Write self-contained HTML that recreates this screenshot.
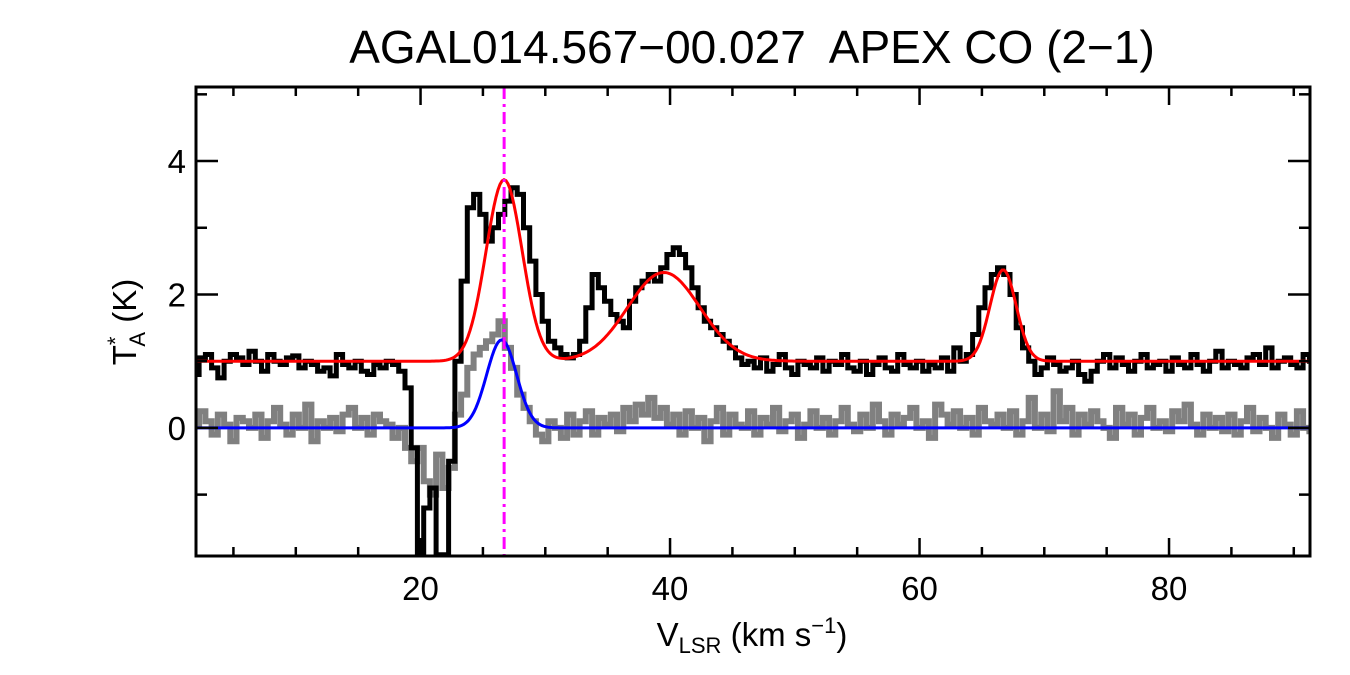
<!DOCTYPE html>
<html><head><meta charset="utf-8"><style>
html,body{margin:0;padding:0;background:#fff;}
svg{display:block;font-family:"Liberation Sans",sans-serif;}
</style></head><body>
<svg id="chart" width="1350" height="675" viewBox="0 0 1350 675">
<text x="752" y="63" font-size="46" text-anchor="middle" style="white-space:pre">AGAL014.567−00.027  APEX CO (2−1)</text>
<g id="plot"></g>
<text x="752" y="646" font-size="33" text-anchor="middle">V<tspan font-size="22" dy="7">LSR</tspan><tspan dy="-7"> (km s</tspan><tspan font-size="22" dy="-13">−1</tspan><tspan dy="13">)</tspan></text>
<text transform="translate(136,322) rotate(-90)" font-size="33" text-anchor="middle">T<tspan font-size="22" dy="-13">*</tspan><tspan font-size="22" dx="-10" dy="22">A</tspan><tspan dy="-9"> (K)</tspan></text>
</svg>
<script>
const xStart = 2.0, xStep = 0.5;
const blackVals = [0.8,1.05,1.1,0.9,0.75,1.0,1.1,1.05,0.95,1.15,1.0,0.85,1.1,1.0,0.95,1.05,1.08,0.9,1.0,0.95,0.85,0.9,0.78,1.1,0.95,0.9,1.0,0.85,0.8,0.95,0.9,
1.0,0.95,0.85,0.6,-0.3,-1.9,-1.2,-0.9,-1.9,-1.9,-0.5,1.0,2.2,3.3,3.5,3.2,2.8,3.0,3.2,3.4,3.6,3.5,3.0,2.5,2.0,1.6,1.3,1.2,1.1,1.05,1.1,1.3,1.8,2.3,2.1,1.9,1.7,1.6,1.5,1.9,2.1,2.2,2.3,2.2,2.4,2.6,2.7,2.6,2.4,2.1,1.8,1.6,1.5,1.4,1.3,1.2,1.05,0.95,1.0,0.9,1.05,
0.85,0.95,1.1,0.9,0.8,1.0,0.95,0.9,1.05,0.85,1.0,0.95,1.1,0.9,0.85,1.0,0.8,0.95,1.05,0.9,0.85,1.1,0.95,0.9,1.0,0.85,0.95,0.9,1.05,0.85,1.2,1.0,
1.1,1.4,1.8,2.1,2.3,2.4,2.3,2.0,1.5,1.2,1.0,
0.8,0.9,1.05,0.95,0.85,0.9,1.0,0.8,0.7,0.85,1.0,1.1,0.9,1.05,0.95,0.85,1.0,1.1,0.9,0.95,1.0,0.85,1.05,0.95,0.9,1.1,0.95,0.85,1.0,1.15,0.9,1.0,0.95,0.9,1.05,1.1,0.95,1.2,0.9,1.0,1.05,0.95,0.9,1.1,1.0];
const grayVals = [0.05,0.25,0.1,-0.1,0.2,0.05,-0.2,0.15,0.1,0.0,0.2,-0.15,0.1,0.3,0.05,-0.1,0.2,0.0,0.35,-0.2,0.1,0.0,0.15,-0.05,0.2,0.3,0.0,0.15,-0.1,0.2,0.1,
0.05,-0.15,0.0,-0.3,-0.5,-0.3,-0.8,-1.0,-0.4,-0.9,-0.6,0.2,0.5,0.9,1.1,1.2,1.3,1.4,1.6,1.2,0.9,0.5,0.3,0.1,-0.1,-0.2,0.1,0.0,-0.15,0.2,-0.1,0.1,0.25,-0.1,0.15,0.05,0.2,-0.05,0.3,0.1,0.35,0.2,0.45,0.15,0.3,0.05,0.2,-0.1,0.25,0.0,0.15,-0.2,0.1,0.3,-0.1,0.2,0.05,0.0,0.25,
-0.1,0.15,0.05,0.3,-0.05,0.1,0.2,-0.15,0.05,0.25,0.0,0.15,-0.1,0.1,0.3,0.05,-0.05,0.2,0.0,0.35,0.1,-0.1,0.2,0.05,0.15,0.3,0.0,0.1,-0.15,0.35,0.2,0.05,0.25,0.0,0.15,-0.1,0.3,0.1,0.05,0.2,0.0,
0.25,-0.1,0.1,0.45,0.0,0.2,-0.05,0.55,0.1,0.3,-0.1,0.2,0.05,0.25,0.1,0.0,-0.15,0.3,0.05,0.2,-0.1,0.15,0.3,0.0,0.1,-0.05,0.25,0.1,0.35,0.05,-0.1,0.2,0.0,0.15,-0.05,
0.2,-0.1,0.1,0.3,-0.05,0.15,0.0,-0.15,0.2,0.05,-0.1,0.25,0.0,-0.05];
const redBase = 1.0;
const redAmps = [2.72, 1.33, 1.37];
const redCenters = [26.7, 39.5, 66.7];
const redSigmas = [1.45, 2.9, 1.05];
const blueAmps = [1.32];
const blueCenters = [26.5];
const blueSigmas = [1.2];
const markerV = 26.7;
const xTicks = [20, 40, 60, 80];
const yTicks = [0, 2, 4];

const L=196,R=1310,T=87,B=556, xMin=2, xMax=91.3, yMin=-1.92, yMax=5.11;
const xs = v => L + (v-xMin)/(xMax-xMin)*(R-L);
const ys = v => B - (v-yMin)/(yMax-yMin)*(B-T);
const NS="http://www.w3.org/2000/svg";
const plot=document.getElementById('plot');
function mk(tag,attrs,parent){const e=document.createElementNS(NS,tag);for(const k in attrs)e.setAttribute(k,attrs[k]);(parent||plot).appendChild(e);return e;}
const clip=mk('clipPath',{id:'cp'});mk('rect',{x:L,y:T,width:R-L,height:B-T},clip);

function stepPath(vals){let d='';vals.forEach((v,i)=>{const x0=xs(xStart+i*xStep-xStep/2),x1=xs(xStart+i*xStep+xStep/2),y=ys(v);d+=(i?'L':'M')+x0.toFixed(1)+','+y.toFixed(1)+'L'+x1.toFixed(1)+','+y.toFixed(1);});return d;}
function gaussPath(base,amps,cs,ss){let d='';for(let px=L;px<=R;px+=2){const v=xMin+(px-L)/(R-L)*(xMax-xMin);let y=base;amps.forEach((a,i)=>{y+=a*Math.exp(-0.5*Math.pow((v-cs[i])/ss[i],2));});d+=(px===L?'M':'L')+px+','+ys(y).toFixed(1);}return d;}

const g=mk('g',{'clip-path':'url(#cp)'});
const gray=mk('path',{d:stepPath(grayVals),fill:'none',stroke:'#808080','stroke-width':6},g);


const blk=mk('path',{d:stepPath(blackVals),fill:'none',stroke:'#000','stroke-width':5},g);


const red=mk('path',{d:gaussPath(redBase,redAmps,redCenters,redSigmas),fill:'none',stroke:'#ff0000','stroke-width':3},g);


const blue=mk('path',{d:gaussPath(0,blueAmps,blueCenters,blueSigmas),fill:'none',stroke:'#0000ff','stroke-width':3},g);


const mv=mk('line',{x1:xs(markerV),x2:xs(markerV),y1:T,y2:B,stroke:'#ff00ff','stroke-width':3,'stroke-dasharray':'12,5,3,5'},g);



const frame=mk('rect',{x:L,y:T,width:R-L,height:B-T,fill:'none',stroke:'#000','stroke-width':3});


for(let v=5;v<=90;v+=5){const x=xs(v),len=(v%20===0)?18:9;
 const t1=mk('line',{x1:x,x2:x,y1:B,y2:B-len,stroke:'#000','stroke-width':2.5});
 
 
 const t2=mk('line',{x1:x,x2:x,y1:T,y2:T+len,stroke:'#000','stroke-width':2.5});
 
 }
xTicks.forEach(v=>{const t=mk('text',{x:xs(v),y:600,'font-size':33,'text-anchor':'middle'});t.textContent=v;
 
 });
for(let v=-1;v<=5;v++){const y=ys(v),len=(v%2===0)?22:11;
 const t1=mk('line',{x1:L,x2:L+len,y1:y,y2:y,stroke:'#000','stroke-width':2.5});
 
 
 const t2=mk('line',{x1:R,x2:R-len,y1:y,y2:y,stroke:'#000','stroke-width':2.5});
 
 }
yTicks.forEach(v=>{const t=mk('text',{x:186,y:ys(v)+12,'font-size':33,'text-anchor':'end'});t.textContent=v;
 
 });
</script>
</body></html>
